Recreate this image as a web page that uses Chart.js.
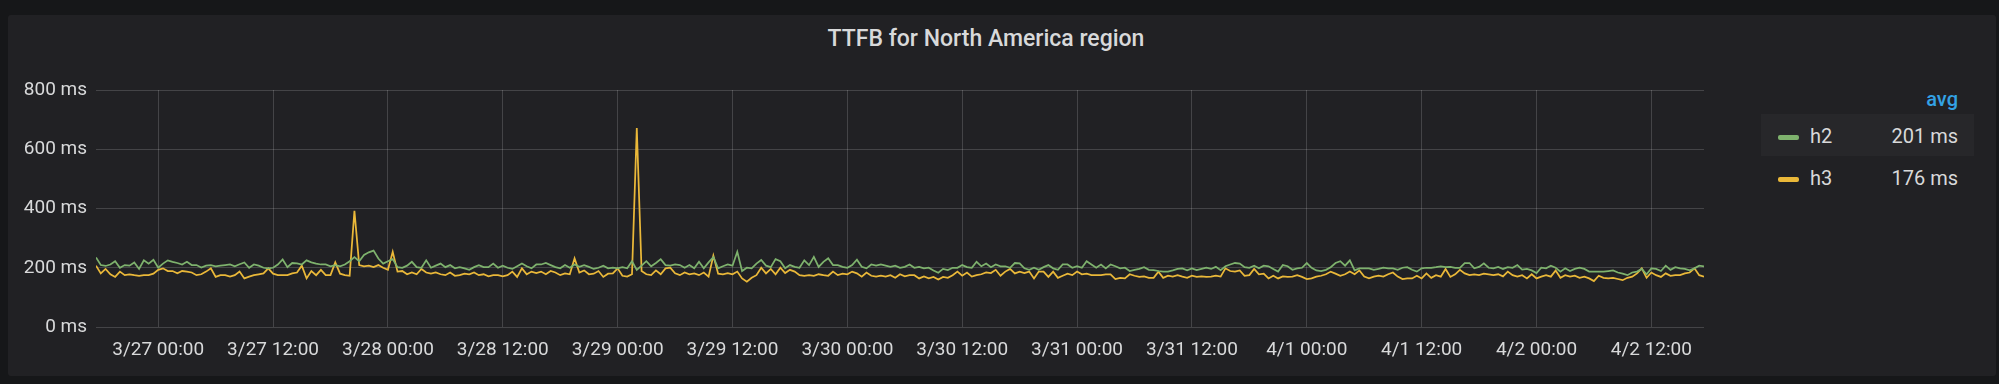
<!DOCTYPE html>
<html>
<head>
<meta charset="utf-8">
<script src="https://cdn.jsdelivr.net/npm/chart.js@4.4.0/dist/chart.umd.min.js"></script>
<style>
  html, body { margin: 0; padding: 0; background: #161719; width: 1999px; height: 384px; overflow: hidden; font-family: Roboto, "Noto Sans", sans-serif; }
  #panel { position: absolute; left: 8px; top: 15px; width: 1988px; height: 361px; background: #212124; border-radius: 3px; }
  #title { position: absolute; top: 10px; left: 0; width: 1956px; text-align: center; color: #d8d9da; font-size: 23px; font-weight: 500; line-height: 28px; }
  #chartBox { position: absolute; left: 0; top: 0; width: 1720px; height: 361px; }
  .lg { position: absolute; font-size: 20px; line-height: 24px; color: #d8d9da; }
  .lg-head { color: #33a2e5; font-weight: 500; text-align: right; }
  .lg-row { position: absolute; left: 1753px; width: 213px; height: 42px; }
  .lg-sw { position: absolute; left: 17px; top: 21px; width: 21px; height: 5px; border-radius: 2px; }
  .lg-name { position: absolute; left: 49px; top: 10px; }
  .lg-val { position: absolute; right: 16px; top: 10px; text-align: right; }
</style>
</head>
<body>
<div id="panel">
  <div id="title">TTFB for North America region</div>
  <div id="chartBox"><canvas id="myChart"></canvas></div>
  <div id="legend"></div>
</div>
<script>
// samples every 30 min, first one at 3/26 17:30 (hours counted from 3/27 00:00)
const startHour = -6.5;
const stepHours = 0.5;

const seriesNames = ['h2', 'h3'];
const seriesColors = ['#7eb26d', '#eab839'];
const seriesAvg = ['201 ms', '176 ms'];

const h2 = [
  235,209,206,211,222,200,209,207,218,196, 225,214,227,200,214,225,220,216,211,220,
  209,209,201,207,209,205,207,209,211,205, 212,218,200,211,207,200,198,200,211,228,
  202,216,215,211,225,218,214,211,211,
  205,209,205,211,222,236,222,243,252,258, 231,214,222,229,202,200,207,220,202,200,
  225,200,207,214,202,209,198,202,198,193, 202,209,202,202,214,200,207,200,196,205,
  214,205,198,211,211,216,209,202,
  198,209,200,211,203,209,203,196,200,207, 198,200,198,202,198,222,193,207,222,205,
  216,229,209,207,211,209,200,209,198,220, 198,218,236,198,205,211,207,254,189,200,
  198,214,226,207,202,229,222,198,
  209,203,200,225,209,237,203,220,232,209, 209,203,200,209,227,203,198,211,207,211,
  207,203,207,200,203,211,200,203,198,200, 191,183,196,192,200,200,209,202,200,220,
  205,214,202,211,205,205,200,216,
  215,198,193,200,193,202,209,198,193,211, 211,200,205,200,222,211,200,211,198,211,
  205,198,200,189,193,196,202,193,192,189, 187,187,191,196,198,191,198,192,196,200,
  196,203,192,205,211,216,214,202,
  200,207,198,207,205,196,187,209,205,193, 198,200,216,200,191,189,193,202,216,222,
  207,225,191,198,198,198,193,196,200,198, 198,193,200,202,193,187,198,200,200,202,
  205,202,203,200,200,216,216,198,
  203,215,200,198,203,196,202,200,209,194, 196,191,182,200,198,207,200,187,198,189,
  196,200,196,187,187,187,187,189,191,184, 180,175,184,187,196,178,198,196,189,207,
  193,202,198,196,191,198,207,205
];

const h3 = [
  207,181,196,178,169,187,175,178,175,173, 175,175,180,193,198,189,189,181,189,187,
  184,175,178,187,198,169,175,175,170,175, 187,164,170,175,178,181,198,180,175,175,
  175,181,184,207,164,189,175,193,175,
  175,218,180,175,173,392,209,205,207,202, 209,200,193,254,187,189,178,184,178,196,
  184,180,184,178,175,184,173,175,180,178, 184,175,178,171,175,175,171,175,187,169,
  198,178,187,182,187,178,189,184,
  175,181,178,232,184,191,178,180,189,169, 180,181,198,173,170,178,672,189,178,175,
  191,178,198,200,181,175,184,178,181,175, 184,170,241,180,178,182,178,187,164,153,
  166,175,200,181,196,178,200,182,
  193,187,175,173,175,173,178,175,173,187, 175,180,178,187,181,170,184,173,170,173,
  170,175,166,178,171,175,175,164,171,164, 169,160,169,166,175,187,173,184,170,175,
  178,184,182,193,173,187,196,181,
  187,182,187,164,187,187,169,187,166,173, 180,175,187,178,180,175,175,175,178,178,
  162,166,164,178,173,169,171,166,166,187, 166,173,170,175,170,166,173,169,171,169,
  170,173,170,198,189,187,191,173,
  175,196,178,180,164,173,164,171,169,170, 175,169,162,164,170,173,178,187,180,173,
  178,187,178,191,170,164,170,173,170,178, 184,170,162,164,164,173,164,181,166,175,
  170,196,169,178,193,181,175,178,
  175,180,178,175,178,171,187,175,170,175, 164,178,164,170,175,170,191,166,175,170,
  173,166,170,164,155,173,166,164,166,162, 158,166,170,181,198,166,184,175,169,181,
  173,175,175,181,184,198,175,170
];

const tickHours = [0, 12, 24, 36, 48, 60, 72, 84, 96, 108, 120, 132, 144, 156];
const tickLabels = ['3/27 00:00', '3/27 12:00', '3/28 00:00', '3/28 12:00', '3/29 00:00', '3/29 12:00',
  '3/30 00:00', '3/30 12:00', '3/31 00:00', '3/31 12:00', '4/1 00:00', '4/1 12:00', '4/2 00:00', '4/2 12:00'];
const yTicks = [0, 200, 400, 600, 800];

function toPoints(arr) {
  return arr.map((v, i) => ({ x: startHour + i * stepHours, y: v }));
}

const textColor = '#d8d9da';
const gridColor = 'rgba(255,255,255,0.16)';

const ctx = document.getElementById('myChart').getContext('2d');
const myChart = new Chart(ctx, {
  type: 'line',
  data: {
    datasets: [h2, h3].map((arr, i) => ({
      label: seriesNames[i],
      data: toPoints(arr),
      borderColor: seriesColors[i],
      backgroundColor: seriesColors[i],
      borderWidth: 1.75,
      pointRadius: 0,
      tension: 0,
      fill: false
    }))
  },
  options: {
    responsive: true,
    maintainAspectRatio: false,
    animation: false,
    layout: { padding: { top: 75, right: 24, left: 0, bottom: 0 } },
    plugins: { legend: { display: false }, tooltip: { enabled: false } },
    scales: {
      x: {
        type: 'linear',
        min: startHour,
        max: startHour + (h2.length - 1) * stepHours,
        afterBuildTicks: s => { s.ticks = tickHours.map(v => ({ value: v })); },
        afterFit: s => { s.height = 49; },
        ticks: {
          autoSkip: false,
          maxRotation: 0,
          padding: 12,
          color: textColor,
          font: { family: 'Roboto', size: 19 },
          callback: (v, i) => tickLabels[i]
        },
        grid: { color: gridColor, drawTicks: false },
        border: { display: false }
      },
      y: {
        min: 0,
        max: 800,
        afterBuildTicks: s => { s.ticks = yTicks.map(v => ({ value: v })); },
        afterFit: s => { s.width = 88; },
        ticks: {
          padding: 9,
          color: textColor,
          font: { family: 'Roboto', size: 19 },
          callback: v => v + ' ms'
        },
        grid: { color: gridColor, drawTicks: false },
        border: { display: false }
      }
    }
  }
});

// grafana style table legend with avg column
const legend = document.getElementById('legend');
const head = document.createElement('div');
head.className = 'lg lg-head';
head.style.left = '1850px';
head.style.width = '100px';
head.style.top = '72px';
head.textContent = 'avg';
legend.appendChild(head);

seriesNames.forEach((name, i) => {
  const row = document.createElement('div');
  row.className = 'lg-row';
  row.style.top = (99 + i * 42) + 'px';
  if (i === 0) row.style.background = '#27272a';
  row.innerHTML = '<div class="lg-sw" style="background:' + seriesColors[i] + '"></div>' +
    '<div class="lg lg-name">' + name + '</div>' +
    '<div class="lg lg-val">' + seriesAvg[i] + '</div>';
  legend.appendChild(row);
});
</script>
</body>
</html>
